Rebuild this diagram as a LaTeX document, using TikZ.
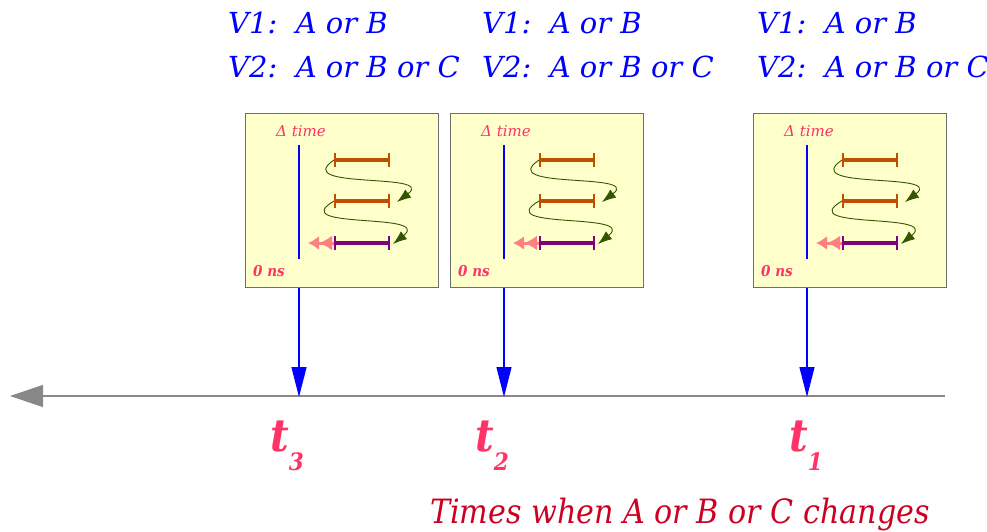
\documentclass[tikz,border=0pt]{standalone}
\usepackage{fontspec}
\setmainfont{DejaVu Serif Condensed}
\newfontfamily\widefont{DejaVu Serif}
\usetikzlibrary{arrows.meta}
\definecolor{tblue}{RGB}{0,0,255}
\definecolor{tpink}{RGB}{255,51,102}
\definecolor{tdred}{RGB}{204,0,34}
\definecolor{borange}{RGB}{192,80,0}
\definecolor{bpurple}{RGB}{128,0,128}
\definecolor{cgreen}{RGB}{51,85,0}
\definecolor{boxfill}{RGB}{255,255,204}
\definecolor{arrpink}{RGB}{255,128,128}
\definecolor{axgray}{RGB}{136,136,136}
\definecolor{boxline}{RGB}{110,110,110}
\begin{document}
\begin{tikzpicture}[x=1pt,y=-1pt,
  tbox/.style={draw=boxline,line width=1.3pt,fill=boxfill,minimum width=193pt,minimum height=174pt,inner sep=0pt},
  toplabel/.style={font=\widefont\fontsize{29}{35}\selectfont\itshape,text=tblue,inner sep=0pt},
  smalllabel/.style={font=\widefont\fontsize{15}{18}\selectfont\itshape,text=tpink,inner sep=0pt},
  zerolabel/.style={font=\fontsize{15}{18}\selectfont\bfseries\itshape,text=tpink,inner sep=0pt},
  tlabel/.style={font=\fontsize{45}{50}\selectfont\bfseries\itshape,text=tpink,inner sep=0pt},
  bottomlabel/.style={font=\fontsize{33.5}{40}\selectfont\itshape,text=tdred,inner sep=0pt},
  blueline/.style={draw=tblue,line width=1.3pt},
  bluearrow/.style={draw=tblue,line width=1.3pt,-{Triangle[length=30pt,width=15pt]}},
  axisline/.style={draw=axgray,line width=1.2pt,-{Triangle[length=33pt,width=22pt]}},
  orangebar/.style={draw=borange,line width=4.5pt,{Bar[width=14pt,line width=2pt]}-{Bar[width=14pt,line width=2pt]}},
  purplebar/.style={draw=bpurple,line width=4.5pt,{Bar[width=14pt,line width=2pt]}-{Bar[width=14pt,line width=2pt]}},
  pinkarrow/.style={draw=arrpink,line width=3pt,-{Latex[length=13pt,width=15pt]Latex[length=11pt,width=14pt]}},
  greencurve/.style={draw=cgreen,line width=0.9pt,-{Latex[length=14pt,width=10pt]}}
]
\useasboundingbox (0,0) rectangle (987,531);

% top labels
\foreach \X/\n in {228/3,482/2,757/1}{
  \node[toplabel,anchor=base west] (vone\n) at (\X,33) {V1:\ \ A or B};
  \node[toplabel,anchor=base west] (vtwo\n) at (\X,77) {V2:\ \ A or B or C};
}

% axis
\coordinate (axR) at (945,396);
\coordinate (axL) at (10,396);
\draw[axisline] (axR) -- (axL);

\foreach \L/\n in {245/3,450/2,753/1}{
  \node[tbox,anchor=north west] (box\n) at (\L,113) {};
  \node[smalllabel,anchor=base west] (dt\n) at ({\L+31},136) {Δ time};
  \node[zerolabel,anchor=base west] (zn\n) at ({\L+8},276) {0 ns};
  \coordinate (lt\n) at ({\L+54},145);
  \coordinate (lb\n) at ({\L+54},259);
  \draw[blueline] (lt\n) -- (lb\n);
  % bars
  \coordinate (oa\n) at ({\L+89},160);
  \coordinate (ob\n) at ({\L+145},160);
  \coordinate (oc\n) at ({\L+89},201);
  \coordinate (od\n) at ({\L+145},201);
  \coordinate (pa\n) at ({\L+89},243);
  \coordinate (pb\n) at ({\L+145},243);
  \coordinate (pt\n) at ({\L+63},243);
  \coordinate (ge\n) at ({\L+152},202);
  \coordinate (gf\n) at ({\L+148},244);
  \draw[pinkarrow] (pa\n) -- (pt\n);
  \draw[orangebar] (oa\n) -- (ob\n);
  \draw[orangebar] (oc\n) -- (od\n);
  \draw[purplebar] (pa\n) -- (pb\n);
  \draw[greencurve] (oa\n) .. controls ({\L+45},190) and ({\L+192},172) .. (ge\n);
  \draw[greencurve] (oc\n) .. controls ({\L+40},230) and ({\L+188},212) .. (gf\n);
  % arrow down to axis
  \coordinate (ax\n) at ({\L+54},397);
  \draw[bluearrow] (box\n.south -| lt\n) -- (ax\n);
}

% t labels
\node[tlabel,anchor=base west] (tthree) at (270,451) {t\raisebox{-19pt}{\fontsize{24}{26}\selectfont 3}};
\node[tlabel,anchor=base west] (ttwo) at (475,451) {t\raisebox{-19pt}{\fontsize{24}{26}\selectfont 2}};
\node[tlabel,anchor=base west] (tone) at (789,451) {t\raisebox{-19pt}{\fontsize{24}{26}\selectfont 1}};

\node[bottomlabel,anchor=base west] (times) at (430,523) {Times when A or B or C changes};
\end{tikzpicture}
\end{document}
